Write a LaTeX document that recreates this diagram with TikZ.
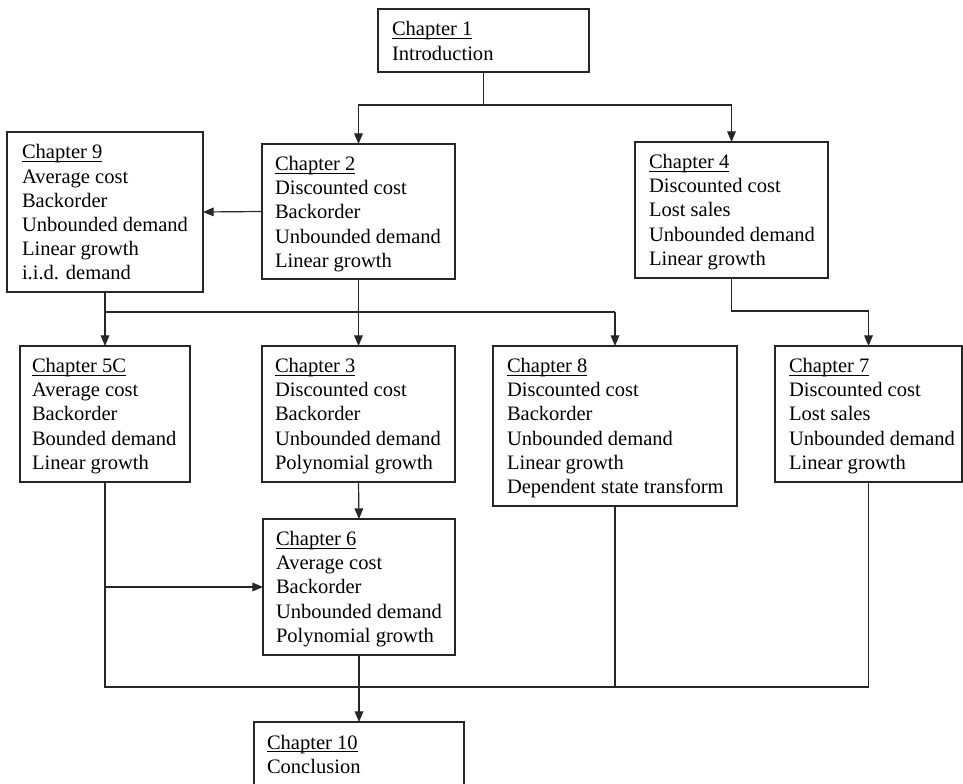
\documentclass[tikz,border=0pt]{standalone}
\usepackage{fontspec}
\setmainfont{Liberation Serif}
\usetikzlibrary{arrows.meta,fit,calc}
\newcommand\chul[1]{\setbox0\hbox{#1}\rlap{\rule[-2.3pt]{\wd0}{0.65pt}}\box0}
\newcommand\lns[1]{\vtop{\baselineskip=18.15pt\lineskip=0pt\lineskiplimit=0pt\halign{##\hfil\cr#1\crcr}}}
\begin{document}
\begin{tikzpicture}[x=0.75pt,y=-0.75pt,
  box/.style={draw=black!85, line width=0.9pt, inner sep=0pt, outer sep=0pt},
  txt/.style={anchor=base west, inner sep=0pt, outer sep=0pt, font=\fontsize{15.4pt}{18.15pt}\selectfont},
  conn/.style={draw=black!85, line width=0.9pt},
  arr/.style={conn, -{Triangle[length=8pt,width=6.5pt]}}]
\useasboundingbox (0,0) rectangle (963,784);
\clip (0,0) rectangle (963,784);
% boxes
\node[box, fit={(378,9) (589,72)}] (ch1) {};
\node[box, fit={(262,144) (455,279)}] (ch2) {};
\node[box, fit={(635,142) (828,278)}] (ch4) {};
\node[box, fit={(7,132) (203,292)}] (ch9) {};
\node[box, fit={(20,346) (190,482)}] (ch5c) {};
\node[box, fit={(262,346) (455,482)}] (ch3) {};
\node[box, fit={(493,346) (737,506)}] (ch8) {};
\node[box, fit={(775,346) (962,482)}] (ch7) {};
\node[box, fit={(263,519) (455,655)}] (ch6) {};
\node[box, fit={(254,722) (464,800)}] (ch10) {};
% texts
\node[txt] (t1) at ($(ch1.north west)+(14,27)$) {\lns{\chul{Chapter 1}\cr Introduction}};
\node[txt] (t2) at ($(ch2.north west)+(13,26.5)$) {\lns{\chul{Chapter 2}\cr Discounted cost\cr Backorder\cr Unbounded demand\cr Linear growth}};
\node[txt] (t4) at ($(ch4.north west)+(14,26.5)$) {\lns{\chul{Chapter 4}\cr Discounted cost\cr Lost sales\cr Unbounded demand\cr Linear growth}};
\node[txt] (t9) at ($(ch9.north west)+(15,27)$) {\lns{\chul{Chapter 9}\cr Average cost\cr Backorder\cr Unbounded demand\cr Linear growth\cr i.i.d. demand}};
\node[txt] (t5) at ($(ch5c.north west)+(12,26.5)$) {\lns{\chul{Chapter 5C}\cr Average cost\cr Backorder\cr Bounded demand\cr Linear growth}};
\node[txt] (t3) at ($(ch3.north west)+(13,26.5)$) {\lns{\chul{Chapter 3}\cr Discounted cost\cr Backorder\cr Unbounded demand\cr Polynomial growth}};
\node[txt] (t8) at ($(ch8.north west)+(14,26.5)$) {\lns{\chul{Chapter 8}\cr Discounted cost\cr Backorder\cr Unbounded demand\cr Linear growth\cr Dependent state transform}};
\node[txt] (t7) at ($(ch7.north west)+(14,26.5)$) {\lns{\chul{Chapter 7}\cr Discounted cost\cr Lost sales\cr Unbounded demand\cr Linear growth}};
\node[txt] (t6) at ($(ch6.north west)+(13,26.5)$) {\lns{\chul{Chapter 6}\cr Average cost\cr Backorder\cr Unbounded demand\cr Polynomial growth}};
\node[txt] (t10) at ($(ch10.north west)+(13,27)$) {\lns{\chul{Chapter 10}\cr Conclusion}};
% connectors
\coordinate (j1) at (ch1.south |- 0,105);
\draw[conn] (ch1.south) -- (j1);
\draw[arr] (j1) -| (ch2.north);
\draw[arr] (j1) -| (ch4.north);
\draw[arr] (ch2.west) -- (ch9.east);
\draw[arr] (ch2.south) -- (ch3.north);
\coordinate (j2) at (ch9.south |- 0,312);
\draw[conn] (j2) -- (j2 -| ch8.north);
\draw[arr] (j2 -| ch8.north) -- (ch8.north);
\draw[arr] (ch9.south) -- (ch5c.north);
\coordinate (j4) at (ch4.south |- 0,311);
\draw[arr] (ch4.south) -- (j4) -| (ch7.north);
\draw[arr] (ch3.south) -- (ch6.north);
\coordinate (j5) at (ch5c.south |- 0,687);
\draw[conn] (ch5c.south) -- (j5) -- (j5 -| ch7.south) -- (ch7.south);
\draw[arr] (ch5c.south |- ch6.west) -- (ch6.west);
\draw[conn] (ch8.south) -- (ch8.south |- j5);
\draw[arr] (ch6.south) -- (ch10.north);
\end{tikzpicture}
\end{document}
